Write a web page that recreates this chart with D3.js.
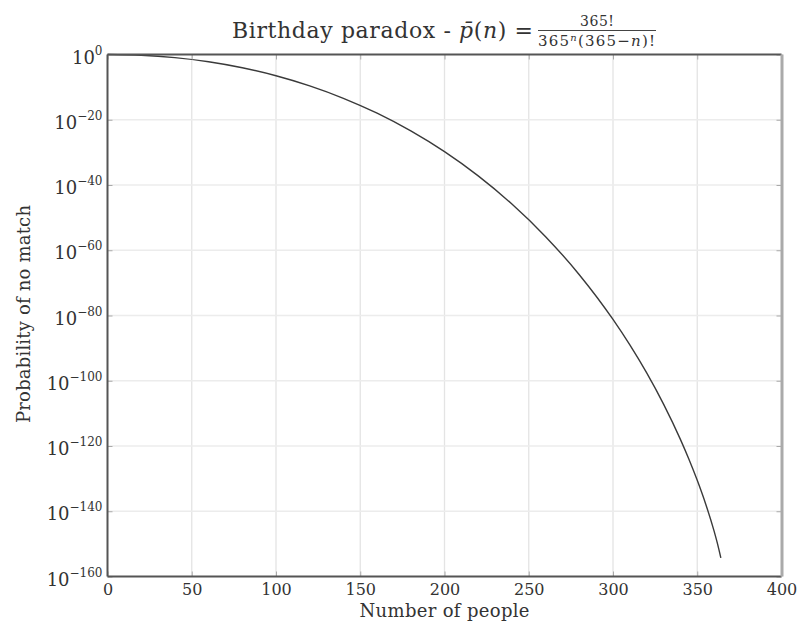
<!DOCTYPE html>
<html><head><meta charset="utf-8">
<script src="https://cdn.jsdelivr.net/npm/d3@7"></script>
<style>body{margin:0;background:#fff}svg{display:block}text{font-family:"DejaVu Serif",serif;fill:#333}</style>
</head><body>
<svg id="c" width="800" height="625"></svg>
<script>
// Number of people n and log10 of probability of no shared birthday
const people = [0,20,40,60,80,100,120,140,160,180,200,220,240,260,280,300,310,320,330,340,345,350,355,360,362,364];
const log10P = [0,-0.230,-0.964,-2.231,-4.067,-6.506,-9.613,-13.42,-18.00,-23.43,-29.79,-37.21,-45.83,-55.83,-67.49,-81.21,-89.02,-97.61,-107.17,-117.97,-123.98,-130.52,-137.77,-146.11,-149.93,-154.28];
const xTicks = [0,50,100,150,200,250,300,350,400];
const yTickExp = [0,-20,-40,-60,-80,-100,-120,-140,-160];

const svg = d3.select("#c");
const m = {l:107.5, r:781.5, t:54.5, b:576.5};
const x = d3.scaleLinear().domain([0,400]).range([m.l,m.r]);
const y = d3.scaleLog().domain([1e-160,1]).range([m.b,m.t]);

// grid
svg.append("g").selectAll("line").data(xTicks.slice(1,-1)).join("line")
  .attr("x1",d=>x(d)).attr("x2",d=>x(d)).attr("y1",m.t).attr("y2",m.b)
  .attr("stroke","#e4e4e4").attr("stroke-width",1.3);
svg.append("g").selectAll("line").data(yTickExp.slice(1,-1)).join("line")
  .attr("x1",m.l).attr("x2",m.r).attr("y1",d=>y(Math.pow(10,d))).attr("y2",d=>y(Math.pow(10,d)))
  .attr("stroke","#ececec").attr("stroke-width",1.3);

// curve
const pts = people.map((n,i)=>[n, Math.pow(10, log10P[i])]);
svg.append("path").datum(pts)
  .attr("d", d3.line().x(d=>x(d[0])).y(d=>y(d[1])).curve(d3.curveMonotoneX))
  .attr("fill","none").attr("stroke","#3a3a3a").attr("stroke-width",1.4);

// axes with inward ticks
const xAxB = d3.axisBottom(x).tickValues(xTicks).tickSize(-5).tickPadding(7).tickFormat(d3.format("d"));
const gx = svg.append("g").attr("transform",`translate(0,${m.b})`).call(xAxB);
gx.select(".domain").remove();
gx.selectAll("line").attr("stroke","#aaa");
gx.selectAll("text").attr("font-size",16).attr("fill","#444").style("font-family","'DejaVu Serif',serif");
const gxt = svg.append("g").attr("transform",`translate(0,${m.t})`).call(d3.axisTop(x).tickValues(xTicks).tickSize(-5).tickFormat(""));
gxt.select(".domain").remove(); gxt.selectAll("line").attr("stroke","#aaa");

const gy = svg.append("g").attr("transform",`translate(${m.l},0)`)
  .call(d3.axisLeft(y).tickValues(yTickExp.map(e=>Math.pow(10,e))).tickSize(-5).tickFormat(""));
gy.select(".domain").remove(); gy.selectAll("line").attr("stroke","#aaa");
const gyr = svg.append("g").attr("transform",`translate(${m.r},0)`)
  .call(d3.axisRight(y).tickValues(yTickExp.map(e=>Math.pow(10,e))).tickSize(-5).tickFormat(""));
gyr.select(".domain").remove(); gyr.selectAll("line").attr("stroke","#aaa");

// y tick labels 10^e
const yl = svg.append("g").selectAll("text").data(yTickExp).join("text")
  .attr("x", m.l-5).attr("y", d=>y(Math.pow(10,d))+9).attr("text-anchor","end").attr("font-size",18).attr("fill","#444");
yl.append("tspan").text("10");
yl.append("tspan").attr("dy",-9).attr("font-size",12).text(d=> d===0 ? "0" : "\u2212"+(-d));

// spines
svg.append("line").attr("x1",m.l).attr("x2",m.r).attr("y1",m.t).attr("y2",m.t).attr("stroke","#555").attr("stroke-width",2);
svg.append("line").attr("x1",m.l).attr("x2",m.r).attr("y1",m.b).attr("y2",m.b).attr("stroke","#555").attr("stroke-width",2);
svg.append("line").attr("x1",m.l).attr("x2",m.l).attr("y1",m.t).attr("y2",m.b).attr("stroke","#555").attr("stroke-width",2);
svg.append("line").attr("x1",m.r+0.5).attr("x2",m.r+0.5).attr("y1",m.t).attr("y2",m.b).attr("stroke","#aaa").attr("stroke-width",3);

// labels
svg.append("text").attr("x",(m.l+m.r)/2).attr("y",617).attr("text-anchor","middle").attr("font-size",18).attr("textLength",170).text("Number of people");
svg.append("text").attr("transform",`translate(30,314) rotate(-90)`).attr("text-anchor","middle").attr("font-size",18).attr("textLength",218).text("Probability of no match");

// title
const t = svg.append("text").attr("x",232).attr("y",38).attr("font-size",22).attr("textLength",301).attr("lengthAdjust","spacing");
t.append("tspan").text("Birthday paradox - ");
t.append("tspan").attr("font-style","italic").text("p\u0304");
t.append("tspan").text("(");
t.append("tspan").attr("font-style","italic").text("n");
t.append("tspan").text(") =");
const fx = 597;
svg.append("text").attr("x",fx).attr("y",26).attr("text-anchor","middle").attr("font-size",14).attr("textLength",34).text("365!");
svg.append("line").attr("x1",538).attr("x2",656).attr("y1",30.5).attr("y2",30.5).attr("stroke","#444").attr("stroke-width",1);
const den = svg.append("text").attr("x",538).attr("y",46).attr("font-size",15).attr("textLength",117).attr("lengthAdjust","spacing");
den.append("tspan").text("365");
den.append("tspan").attr("font-size",10).attr("dy",-5).attr("font-style","italic").text("n");
den.append("tspan").attr("dy",5).text("(365\u2212");
den.append("tspan").attr("font-style","italic").text("n");
den.append("tspan").text(")!");
</script>
</body></html>
